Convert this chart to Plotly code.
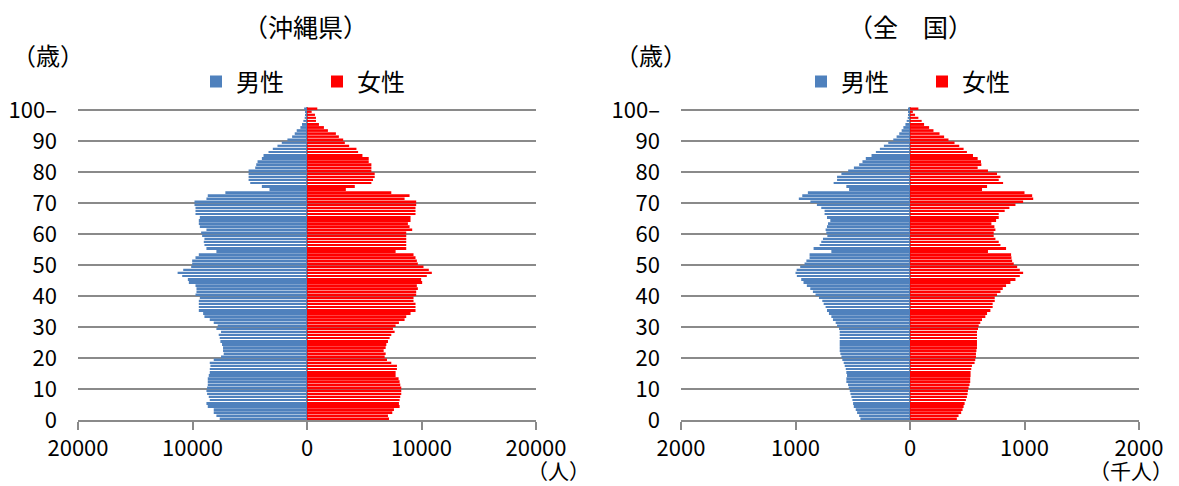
import plotly.graph_objects as go

# Population by single year of age (0 .. 100 and over)
ages = list(range(101))

okinawa_male = [
    7623, 7913, 8145, 8145, 8667, 8783, 8493, 8580, 8725, 8783,
    8725, 8667, 8667, 8667, 8580, 8493, 8493, 8435, 8493, 8145,
    7507, 7275, 7333, 7333, 7420, 7565, 7623, 7710, 7507, 7913,
    7797, 8145, 8493, 8957, 9072, 9449, 9449, 9449, 9449, 9362,
    9739, 9652, 9652, 9739, 10319, 10406, 10899, 11300, 10812, 10116,
    10029, 10029, 9739, 9449, 7913, 8783, 8957, 9014, 8957, 9159,
    9246, 8783, 9362, 9449, 9449, 9362, 9739, 9739, 9739, 9826,
    9826, 8783, 8667, 7130, 3275, 3942, 4957, 5101, 5101, 5101,
    5101, 4522, 4435, 4319, 3942, 3797, 3362, 2986, 2580, 2203,
    1710, 1300, 1072, 899, 580, 435, 319, 203, 145, 116, 250,
]

okinawa_female = [
    7159, 7072, 7449, 7594, 8087, 8029, 8087, 8145, 8232, 8232,
    8232, 8145, 8087, 8000, 7739, 7739, 7855, 7855, 7362, 6986,
    6783, 6870, 6696, 6870, 6928, 7072, 7217, 7362, 7652, 7507,
    7739, 8029, 8522, 8667, 9043, 9478, 9478, 9478, 9304, 9304,
    9536, 9536, 9681, 9594, 10058, 9971, 10464, 10900, 10638, 10174,
    9681, 9594, 9478, 9304, 7739, 8667, 8667, 8667, 8667, 8667,
    8667, 9188, 8957, 8812, 9043, 9043, 9478, 9478, 9478, 9536,
    9536, 8522, 8957, 7362, 3391, 4174, 5623, 5768, 5913, 5913,
    5623, 5623, 5623, 5391, 5391, 4841, 4464, 4319, 3681, 3304,
    3159, 2783, 2522, 1826, 1478, 1043, 783, 783, 696, 406, 899,
]

# Japan, thousands of people
japan_male = [
    433, 444, 462, 474, 491, 497, 503, 512, 520, 526,
    535, 541, 556, 556, 550, 556, 561, 570, 579, 591,
    599, 608, 614, 614, 614, 614, 614, 614, 614, 620,
    637, 649, 673, 687, 708, 725, 737, 754, 766, 795,
    825, 848, 871, 901, 930, 950, 988, 1000, 990, 959,
    921, 905, 877, 877, 687, 842, 789, 775, 760, 722,
    731, 737, 725, 716, 696, 725, 746, 746, 775, 813,
    870, 971, 941, 892, 532, 556, 667, 637, 637, 599,
    540, 490, 444, 415, 386, 336, 298, 263, 228, 190,
    146, 117, 94, 73, 58, 40, 29, 20, 15, 10, 15,
]

japan_female = [
    409, 424, 447, 459, 468, 477, 488, 497, 503, 506,
    512, 520, 526, 526, 529, 529, 535, 541, 564, 570,
    576, 576, 580, 585, 585, 585, 585, 585, 585, 594,
    600, 614, 629, 658, 673, 702, 722, 722, 740, 740,
    760, 790, 810, 839, 877, 921, 959, 988, 959, 936,
    906, 892, 886, 883, 681, 839, 790, 775, 746, 731,
    731, 746, 737, 711, 752, 775, 775, 827, 868, 921,
    988, 1076, 1067, 1000, 629, 673, 813, 775, 790, 760,
    681, 591, 623, 620, 591, 550, 497, 468, 430, 389,
    336, 298, 258, 205, 167, 123, 102, 73, 44, 25, 73,
]

age_ticks = list(range(0, 101, 10))
age_labels = [str(a) for a in age_ticks[:-1]] + ["100\u2013"]

okinawa_ticks = [-20000, -10000, 0, 10000, 20000]
okinawa_labels = ["20000", "10000", "0", "10000", "20000"]
japan_ticks = [-2000, -1000, 0, 1000, 2000]
japan_labels = ["2000", "1000", "0", "1000", "2000"]

W, H = 1179, 486
MALE = "#4F81BD"
FEMALE = "#FF0000"
GRID = "#8A8A8A"
FONT = "Noto Sans CJK JP, sans-serif"


def fx(p):
    return p / W


def fy(p):
    return 1 - p / H


fig = go.Figure()

panels = [
    ("x", "y", "legend", okinawa_male, okinawa_female),
    ("x2", "y2", "legend2", japan_male, japan_female),
]
for xa, ya, lg, male, female in panels:
    fig.add_trace(go.Bar(
        y=ages, x=[-v for v in male], orientation="h", name="男性",
        marker=dict(color=MALE, line=dict(width=0)),
        width=0.62, offset=0.19, xaxis=xa, yaxis=ya, legend=lg,
        hoverinfo="skip",
    ))
    fig.add_trace(go.Bar(
        y=ages, x=female, orientation="h", name="女性",
        marker=dict(color=FEMALE, line=dict(width=0)),
        width=0.62, offset=0.19, xaxis=xa, yaxis=ya, legend=lg,
        hoverinfo="skip",
    ))

ydomain = [fy(420), fy(106.9)]

xcommon = dict(
    showgrid=False, zeroline=True, zerolinecolor=GRID, zerolinewidth=1.5,
    showline=True, linecolor=GRID, linewidth=1.8,
    ticks="outside", ticklen=8, tickcolor=GRID, tickwidth=1.5,
    tickfont=dict(family=FONT, size=22, color="#000"),
    automargin=False, fixedrange=True,
)
ycommon = dict(
    range=[0, 101], domain=ydomain, tickmode="array",
    tickvals=age_ticks, ticktext=age_labels,
    showgrid=True, gridcolor=GRID, gridwidth=1.8,
    zeroline=False, showline=False, ticks="",
    ticklabelstandoff=20,
    tickfont=dict(family=FONT, size=22, color="#000"),
    automargin=False, fixedrange=True,
)

legend_common = dict(
    orientation="h", xanchor="left", yanchor="middle",
    font=dict(family=FONT, size=24, color="#000"), bgcolor="rgba(0,0,0,0)",
    entrywidth=76, entrywidthmode="pixels", traceorder="normal",
)

fig.update_layout(
    width=W, height=H,
    margin=dict(l=0, r=0, t=0, b=0, autoexpand=False),
    paper_bgcolor="white", plot_bgcolor="white",
    barmode="overlay",
    font=dict(family=FONT, color="#000"),
    xaxis=dict(domain=[fx(78), fx(536)], range=[-20000, 20000],
               tickmode="array", tickvals=okinawa_ticks, ticktext=okinawa_labels,
               anchor="y", **xcommon),
    yaxis=dict(anchor="x", **ycommon),
    xaxis2=dict(domain=[fx(681), fx(1139)], range=[-2000, 2000],
                tickmode="array", tickvals=japan_ticks, ticktext=japan_labels,
                anchor="y2", **xcommon),
    yaxis2=dict(anchor="x2", **ycommon),
    legend=dict(x=fx(196), y=fy(82), **legend_common),
    legend2=dict(x=fx(801), y=fy(82), **legend_common),
    showlegend=True,
)

notes = [
    ("（沖縄県）", 305, 26, "center", 25),
    ("（全　国）", 910, 26, "center", 25),
    ("（歳）", 10, 55, "left", 24),
    ("（歳）", 613, 55, "left", 24),
    ("（人）", 558, 470, "center", 21),
    ("（千人）", 1131, 470, "center", 21),
]
for text, x, y, anchor, size in notes:
    fig.add_annotation(
        text=text, x=fx(x), y=fy(y), xref="paper", yref="paper",
        xanchor=anchor, yanchor="middle", showarrow=False,
        font=dict(family=FONT, size=size, color="#000"),
    )

fig.write_html("out.html")
